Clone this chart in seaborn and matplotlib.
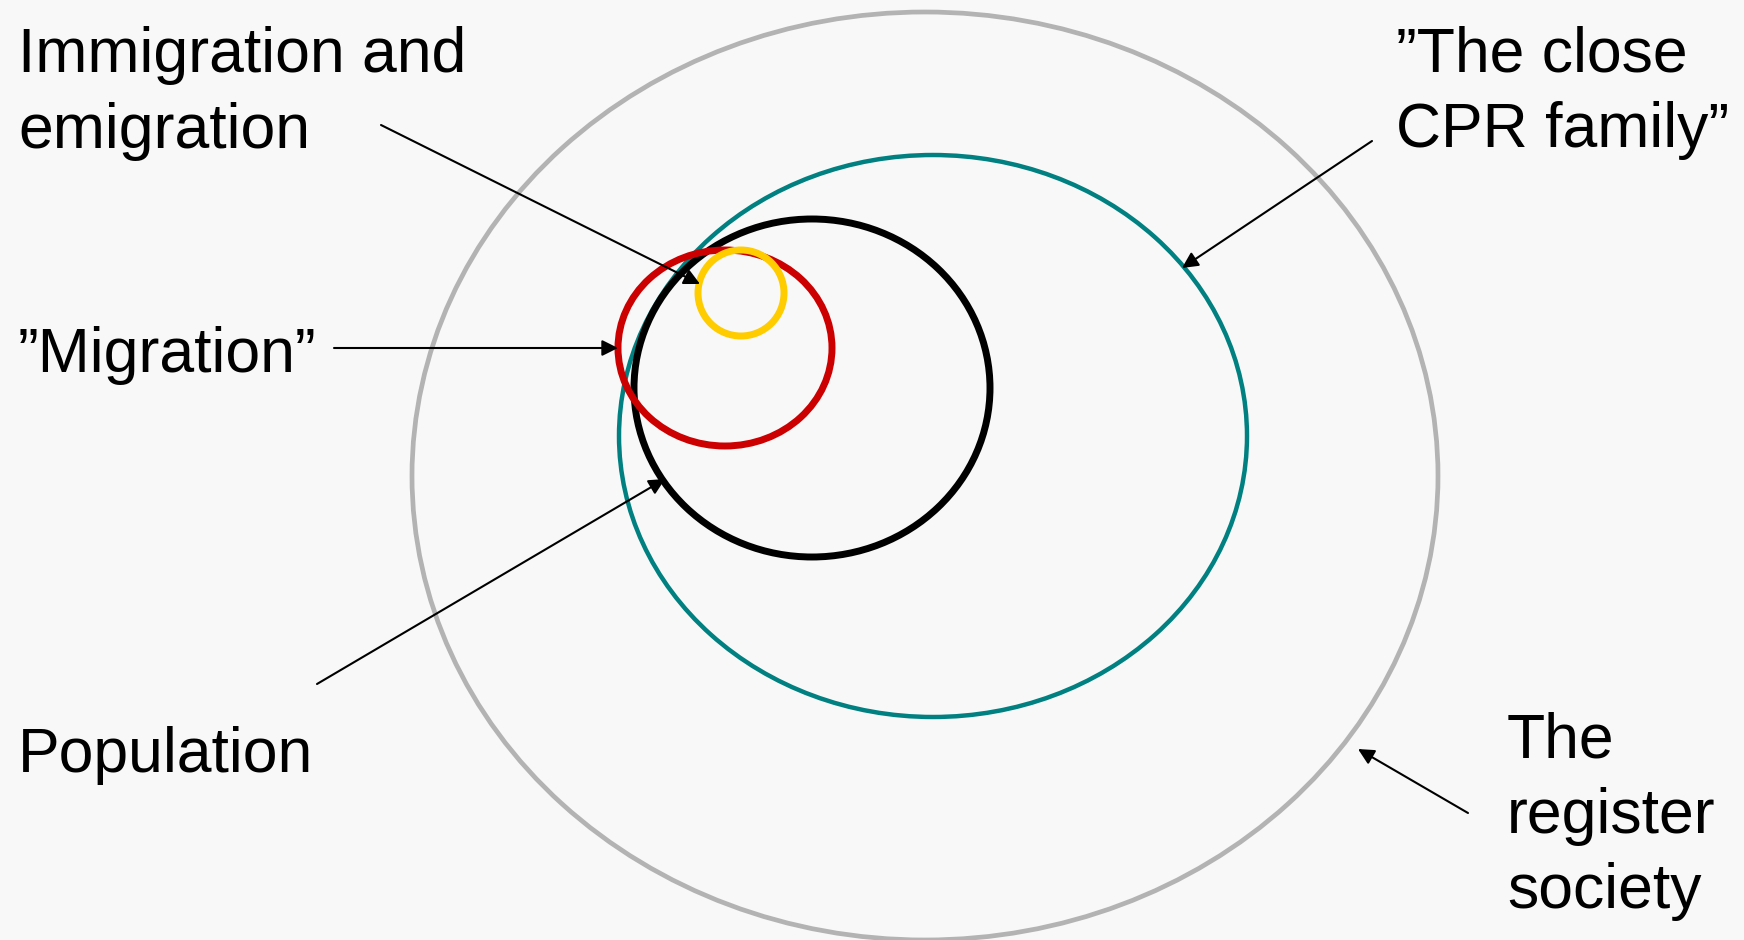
import matplotlib
matplotlib.use("Agg")
from matplotlib import pyplot as plt
from matplotlib.patches import Ellipse
import seaborn as sns

# rings of the diagram (pixel space of the 1744x940 canvas)
ring_names = ["The register society", "The close CPR family", "Population", "Migration", "Immigration and emigration"]
ring_cx = [925, 933, 812, 725, 741]
ring_cy = [476, 436, 388, 348, 293]
ring_w = [1026, 628, 356, 214, 86]
ring_h = [928, 562, 338, 196, 86]
ring_colors = ["#b3b3b3", "#008080", "#000000", "#cc0000", "#ffcc00"]
ring_lw = [3.4, 3.2, 5, 5, 5]

# labels: lines, left x, baselines
label_lines = [
    ["Immigration and", "emigration"],
    ["\u201dMigration\u201d"],
    ["Population"],
    ["\u201dThe close", "CPR family\u201d"],
    ["The", "register", "society"],
]
label_x = [18, 18, 18, 1396, 1507]
label_y = [[72, 148], [372], [772], [72, 147], [757, 833, 908]]

# arrows: start -> tip
arrow_start = [(381, 125), (334, 348), (317, 684), (1372, 141), (1468, 813)]
arrow_tip = [(700, 284), (618, 348), (665, 479), (1182, 268), (1358, 749)]

sns.set_theme(style="white")
plt.rcParams["font.family"] = ["Liberation Sans", "DejaVu Sans"]

fig = plt.figure(figsize=(17.44, 9.40), dpi=100, facecolor="#f8f8f8")
ax = fig.add_axes([0, 0, 1, 1])
ax.set_facecolor("#f8f8f8")
ax.set_xlim(0, 1744)
ax.set_ylim(940, 0)
ax.axis("off")

for cx, cy, w, h, c, lw in zip(ring_cx, ring_cy, ring_w, ring_h, ring_colors, ring_lw):
    ax.add_patch(Ellipse((cx, cy), w, h, fill=False, edgecolor=c, linewidth=lw))

for (x0, y0), (x1, y1) in zip(arrow_start, arrow_tip):
    ax.annotate("", xy=(x1, y1), xytext=(x0, y0),
                arrowprops=dict(arrowstyle="-|>", color="black", lw=1.5,
                                mutation_scale=24, shrinkA=0, shrinkB=0))

for lines, x, ys in zip(label_lines, label_x, label_y):
    for line, y in zip(lines, ys):
        ax.text(x, y, line, fontsize=45, color="black", ha="left", va="baseline")

plt.savefig("out.png", dpi=100, facecolor=fig.get_facecolor())
plt.close()
